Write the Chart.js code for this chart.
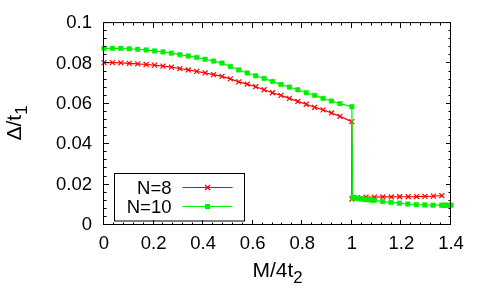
<!DOCTYPE html>
<html>
<head>
<meta charset="utf-8">
<script src="https://cdn.jsdelivr.net/npm/chart.js@4"></script>
<style>html,body{margin:0;padding:0;background:#fff}</style>
</head>
<body>
<canvas id="c" width="485" height="304"></canvas>
<script>
const xTicks = [0, 0.2, 0.4, 0.6, 0.8, 1, 1.2, 1.4];
const yTicks = [0, 0.02, 0.04, 0.06, 0.08, 0.1];
const seriesNames = ['N=8', 'N=10'];

// below the jump (M/4t2 <= 1), shared x for both sizes
const xLow = [0, 0.034, 0.068, 0.102, 0.136, 0.17, 0.204, 0.238, 0.272, 0.306,
  0.34, 0.374, 0.408, 0.442, 0.476, 0.51, 0.544, 0.578, 0.612, 0.646,
  0.68, 0.714, 0.748, 0.782, 0.816, 0.85, 0.884, 0.918, 0.952, 1.0];
const n8Low = [0.0804, 0.0804, 0.0803, 0.0801, 0.0798, 0.0795, 0.0792, 0.0787, 0.0782, 0.0775,
  0.0768, 0.0761, 0.0753, 0.0745, 0.0736, 0.0724, 0.0709, 0.0698, 0.0685, 0.0670,
  0.0655, 0.0642, 0.0627, 0.0612, 0.0598, 0.0583, 0.0570, 0.0555, 0.0538, 0.0512];
const n10Low = [0.0875, 0.0875, 0.0875, 0.0873, 0.0870, 0.0867, 0.0862, 0.0857, 0.0851, 0.0844,
  0.0837, 0.0830, 0.0821, 0.0812, 0.0802, 0.0785, 0.0768, 0.0753, 0.0739, 0.0726,
  0.0711, 0.0696, 0.0683, 0.0670, 0.0655, 0.0642, 0.0627, 0.0614, 0.0601, 0.0586];

// above the jump
const xHigh8 = [1.0, 1.023, 1.057, 1.091, 1.125, 1.159, 1.193, 1.227, 1.261, 1.295, 1.329, 1.363];
const n8High = [0.0128, 0.0136, 0.0138, 0.0138, 0.0139, 0.0139, 0.0140, 0.0140, 0.0141, 0.0142, 0.0143, 0.0145];
const xHigh10 = [1.004, 1.01, 1.02, 1.03, 1.04, 1.05, 1.06, 1.07, 1.08, 1.09,
  1.124, 1.158, 1.192, 1.226, 1.26, 1.294, 1.328, 1.362, 1.37, 1.38, 1.39, 1.4];
const n10High = [0.0136, 0.0134, 0.0132, 0.0131, 0.0129, 0.0127, 0.0126, 0.0125, 0.0124, 0.0122,
  0.0116, 0.0112, 0.0108, 0.0104, 0.0101, 0.0099, 0.0098, 0.0098, 0.0098, 0.0098, 0.0098, 0.0098];

const FONT = '"Liberation Sans", Arial, Helvetica, sans-serif';
const RED = '#ff0000', GREEN = '#00ee00';

const pts = (xs, ys) => xs.map((x, i) => ({x, y: ys[i]}));

function marker(ctx, style, color, x, y) {
  ctx.save();
  ctx.strokeStyle = color; ctx.fillStyle = color; ctx.lineWidth = 1.2;
  if (style === 'crossRot') {
    ctx.beginPath();
    ctx.moveTo(x - 2.5, y - 2.5); ctx.lineTo(x + 2.5, y + 2.5);
    ctx.moveTo(x - 2.5, y + 2.5); ctx.lineTo(x + 2.5, y - 2.5);
    ctx.stroke();
  } else {
    ctx.fillRect(x - 2.5, y - 2.5, 5, 5);
  }
  ctx.restore();
}

function subText(ctx, main, sub, size) {
  // centred on the origin, alphabetic baseline, subscript lowered
  ctx.font = size + 'px ' + FONT;
  const w1 = ctx.measureText(main).width;
  ctx.font = (size * 0.8) + 'px ' + FONT;
  const w2 = ctx.measureText(sub).width;
  const start = -(w1 + w2) / 2;
  ctx.font = size + 'px ' + FONT;
  ctx.fillText(main, start, 0);
  ctx.font = (size * 0.8) + 'px ' + FONT;
  ctx.fillText(sub, start + w1, size * 0.27);
}

const frame = {
  id: 'frame',
  afterDraw(chart) {
    const {ctx, chartArea: a, scales: {x, y}} = chart;
    ctx.save();
    ctx.strokeStyle = '#000';
    ctx.lineWidth = 1;
    ctx.beginPath();
    for (let k = 0; k <= 35; k++) {
      const px = Math.round(x.getPixelForValue(k * 0.04)) - 0.5;
      const len = k % 5 === 0 ? 5 : 2.5;
      ctx.moveTo(px, a.bottom); ctx.lineTo(px, a.bottom - len);
      ctx.moveTo(px, a.top); ctx.lineTo(px, a.top + len);
    }
    for (let k = 0; k <= 25; k++) {
      const py = Math.round(y.getPixelForValue(k * 0.004)) - 0.5;
      const len = k % 5 === 0 ? 5 : 2.5;
      ctx.moveTo(a.left, py); ctx.lineTo(a.left + len, py);
      ctx.moveTo(a.right, py); ctx.lineTo(a.right - len, py);
    }
    ctx.stroke();
    ctx.strokeRect(a.left - 0.5, a.top - 0.5, a.right - a.left, a.bottom - a.top);

    // axis titles
    ctx.fillStyle = '#000';
    ctx.textBaseline = 'alphabetic';
    ctx.textAlign = 'left';
    ctx.save();
    ctx.translate((a.left + a.right) / 2, 277);
    subText(ctx, 'M/4t', '2', 21);
    ctx.restore();
    ctx.save();
    ctx.translate(21, 123);
    ctx.rotate(-Math.PI / 2);
    subText(ctx, '\u0394/t', '1', 21);
    ctx.restore();

    // key box
    ctx.strokeRect(114.5, 173.5, 130, 47.5);
    ctx.font = '18.5px ' + FONT;
    ctx.textAlign = 'right';
    ctx.textBaseline = 'middle';
    chart.data.datasets.forEach((ds, i) => {
      const ry = [187.5, 206.5][i];
      ctx.fillStyle = '#000';
      ctx.fillText(ds.label, 171.5, ry + 1);
      ctx.strokeStyle = ds.borderColor;
      ctx.lineWidth = 1.2;
      ctx.beginPath();
      ctx.moveTo(182.5, ry); ctx.lineTo(232.5, ry);
      ctx.stroke();
      marker(ctx, ds.pointStyle, ds.borderColor, 207.5, ry);
    });
    ctx.restore();
  }
};

new Chart(document.getElementById('c'), {
  type: 'scatter',
  data: {
    datasets: [
      {
        label: seriesNames[0],
        data: pts(xLow, n8Low).concat(pts(xHigh8, n8High)),
        showLine: true, borderColor: RED, backgroundColor: RED,
        borderWidth: 1.2, pointStyle: 'crossRot', pointRadius: 3.5, pointBorderWidth: 1.2,
        order: 1, clip: false
      },
      {
        label: seriesNames[1],
        data: pts(xLow, n10Low).concat(pts(xHigh10, n10High)),
        showLine: true, borderColor: GREEN, backgroundColor: GREEN,
        borderWidth: 1.2, pointStyle: 'rect', pointRadius: 3.2, pointBorderWidth: 0.5,
        order: 0, clip: false
      }
    ]
  },
  options: {
    responsive: false,
    animation: false,
    layout: {padding: {left: 0, right: 34, top: 22, bottom: 0}},
    plugins: {legend: {display: false}, tooltip: {enabled: false}},
    scales: {
      x: {
        type: 'linear', min: 0, max: 1.4,
        afterBuildTicks: s => { s.ticks = xTicks.map(v => ({value: v})); },
        afterFit: s => { s.height = 79; },
        grid: {display: false, drawTicks: false},
        border: {display: false},
        ticks: {color: '#000', padding: 8, font: {family: FONT, size: 18.5}, callback: v => String(v), maxRotation: 0}
      },
      y: {
        type: 'linear', min: 0, max: 0.1,
        afterBuildTicks: s => { s.ticks = yTicks.map(v => ({value: v})); },
        afterFit: s => { s.width = 104; },
        grid: {display: false, drawTicks: false},
        border: {display: false},
        ticks: {color: '#000', padding: 12, font: {family: FONT, size: 18.5}, callback: v => String(v)}
      }
    }
  },
  plugins: [frame]
});
</script>
</body>
</html>
